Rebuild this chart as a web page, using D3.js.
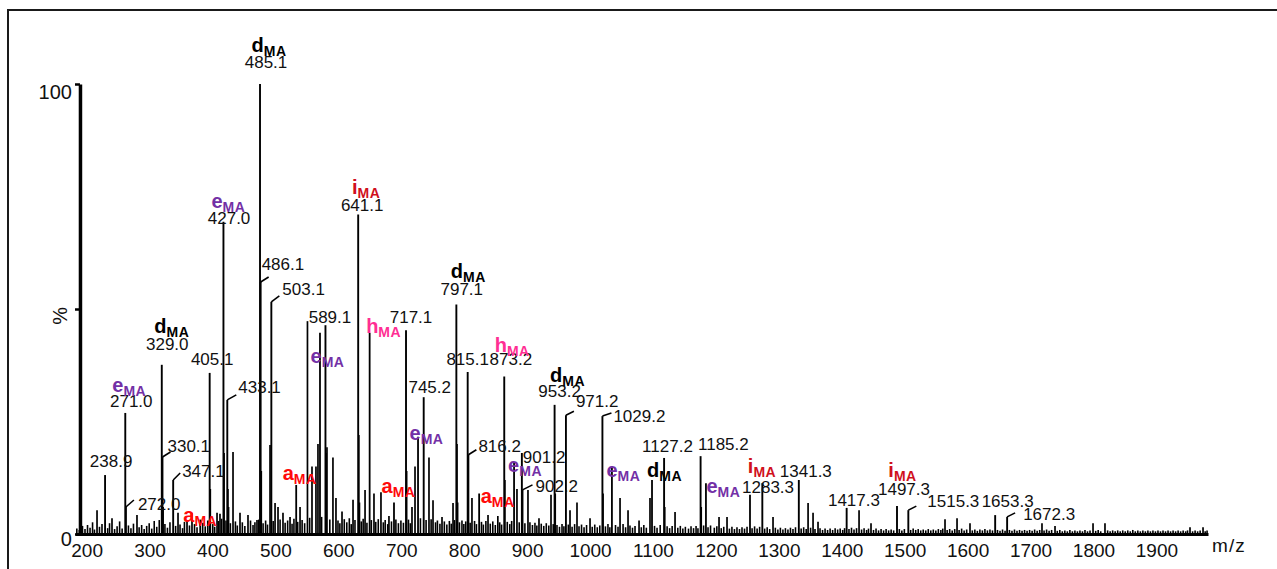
<!DOCTYPE html>
<html>
<head>
<meta charset="utf-8">
<script src="https://cdn.jsdelivr.net/npm/d3@7"></script>
<style>
  html, body { margin: 0; padding: 0; background: #fff; }
  svg { display: block; font-family: "Liberation Sans", Arial, sans-serif; }
</style>
</head>
<body>
<svg id="chart" width="1277" height="569"></svg>
<script>
// ---- Spectrum data (m/z, relative intensity in %) ----
const labelledMz  = [238.9, 271.0, 272.0, 329.0, 330.1, 347.1, 405.1, 427.0, 433.1, 485.1, 486.1, 503.1,
                     589.1, 641.1, 717.1, 745.2, 797.1, 815.1, 816.2, 873.2, 901.2, 902.2, 953.2, 971.2,
                     1029.2, 1127.2, 1185.2, 1283.3, 1341.3, 1417.3, 1497.3, 1515.3, 1653.3, 1672.3];
const labelledPct = [13.1, 26.9, 6.0, 37.6, 17.1, 12.0, 35.8, 69.4, 29.8, 100, 56.0, 51.6,
                     46.4, 71.0, 45.3, 30.4, 51.0, 36.0, 17.6, 35.0, 18.0, 9.8, 28.7, 26.4,
                     26.2, 16.9, 17.3, 11.3, 12.0, 5.8, 6.2, 5.3, 4.2, 3.8];

// fragment peaks carrying only an ion-type tag
const ionPeakMz  = [390.1, 542.6, 580.4, 659.3, 698.0, 736.2, 833.3, 888.8, 1044.3, 1108.0, 1193.7, 1263.7];
const ionPeakPct = [3.2, 10.9, 44.7, 44.7, 7.0, 21.6, 9.0, 16.0, 15.0, 12.0, 11.3, 8.7];

// ion-type annotations (letter + subscript MA)
const ionMz   = [271.0, 329.0, 427.0, 485.1, 390.1, 542.6, 580.4, 641.1, 659.3, 698.0, 736.2,
                 797.1, 833.3, 873.2, 888.8, 953.2, 1044.3, 1108.0, 1193.7, 1263.7, 1497.3];
const ionType = ["e", "d", "e", "d", "a", "a", "e", "i", "h", "a", "e",
                 "d", "a", "h", "e", "d", "e", "d", "e", "i", "i"];

// other resolved peaks and isotope shoulders
const minorPeaks = [
  [226.1,5.3],[249.9,3.5],[289.6,4.2],[331.1,6.0],[354.8,4.7],[369.1,3.0],[377.0,4.7],[406.1,10.0],
  [416.8,4.7],[421.5,4.5],[428.0,18.0],[434.1,10.0],[435.1,6.0],[442.2,18.2],[453.3,4.7],[466.0,4.2],
  [480.3,3.1],[487.1,14.0],[501.0,19.8],[509.0,6.9],[513.7,6.0],[521.6,4.7],[532.8,3.8],[548.7,6.0],
  [560.5,47.3],[567.7,15.0],[574.0,15.0],[577.2,20.0],[590.1,18.0],[591.5,19.3],[601.0,17.0],[605.8,8.0],
  [615.4,5.0],[632.9,7.6],[642.1,22.0],[643.1,7.0],[652.0,9.8],[666.2,9.0],[677.3,9.3],[690.0,4.0],
  [718.1,14.0],[726.6,6.0],[731.4,15.0],[753.6,17.0],[760.0,7.5],[774.3,3.8],[791.8,6.9],[798.1,20.0],
  [799.1,7.0],[821.9,8.0],[847.4,4.2],[863.0,4.0],[874.2,12.0],[893.4,10.0],[910.9,9.8],[928.4,3.5],
  [947.5,8.7],[954.2,9.0],[977.7,5.3],[988.8,7.0],[1009.5,3.5],[1030.2,9.0],[1057.2,8.0],[1069.9,5.3],
  [1087.4,3.0],[1104.8,8.0],[1128.2,6.0],[1144.6,4.9],[1186.2,6.0],[1214.5,3.8],[1227.2,3.8],[1300.3,3.8],
  [1356.0,6.9],[1363.9,4.7],[1371.8,2.7],[1437.0,5.3],[1456.0,2.4],[1573.6,3.3],[1592.7,3.5],[1613.3,2.4],
  [1727.7,2.4],[1748.4,1.8],[1808.8,2.4],[1827.8,2.4],[1962.9,1.5],[1983.6,1.5]
];

// baseline chemical noise
const noisePeaks = [
  [194,1.2],[198,0.9],[203,1.8],[207,1.1],[211,2.0],[215,1.4],[219,2.6],[222,1.0],[230,1.6],[234,2.2],
  [243,1.3],[246,2.4],[254,1.1],[258,1.7],[262,2.8],[266,1.2],[276,1.9],[280,1.3],[284,2.3],[293,1.5],
  [297,2.0],[301,1.1],[305,1.8],[309,2.4],[313,1.2],[317,2.9],[321,1.6],[325,3.1],[334,2.2],[338,1.4],
  [342,2.6],[351,1.8],[358,2.1],[362,1.3],[365,2.7],[373,1.9],[381,2.2],[385,1.5],[394,2.5],[398,1.7],
  [402,3.0],[410,2.2],[413,1.6],[419,2.9],[424,3.4],[431,3.0],[438,2.4],[446,2.8],[449,1.9],[457,2.6],
  [461,1.8],[470,3.0],[474,2.0],[477,2.6],[483,3.2],[490,2.4],[494,3.0],[497,2.1],[506,2.9],[517,3.2],
  [525,2.5],[529,3.0],[536,2.3],[539,3.4],[545,2.7],[552,3.1],[556,2.4],[564,3.6],[583,3.8],[596,3.2],
  [609,3.0],[612,2.4],[619,3.3],[623,2.6],[627,3.5],[630,2.2],[636,3.1],[646,2.8],[649,3.4],[655,2.5],
  [662,3.1],[669,2.7],[673,3.3],[681,2.6],[684,3.1],[688,2.2],[694,2.8],[701,3.2],[705,2.4],[709,3.0],
  [713,2.5],[721,3.2],[724,2.4],[740,3.5],[749,3.1],[757,3.3],[764,2.6],[767,3.0],[771,2.3],[778,2.8],
  [782,2.1],[786,2.9],[789,2.3],[794,3.1],[802,2.6],[806,3.0],[809,2.2],[812,2.8],[819,2.5],[826,2.9],
  [829,2.2],[837,2.7],[840,2.1],[844,2.9],[851,2.3],[855,2.8],[859,2.0],[866,2.6],[869,2.1],[878,2.7],
  [882,2.2],[885,2.9],[897,2.6],[906,2.4],[914,2.6],[918,2.0],[922,2.5],[925,1.9],[932,2.3],[936,1.8],
  [940,2.4],[944,1.9],[951,2.2],[957,2.0],[961,1.6],[965,2.2],[968,1.7],[975,2.1],[981,1.6],[985,2.2],
  [992,1.7],[996,2.1],[1000,1.5],[1004,2.0],[1013,1.6],[1017,2.1],[1021,1.5],[1025,1.9],[1034,1.7],[1038,2.2],
  [1041,1.5],[1050,2.0],[1054,1.6],[1062,2.2],[1066,1.5],[1073,1.9],[1077,1.4],[1081,1.8],[1091,1.5],[1095,2.0],
  [1099,1.4],[1112,1.8],[1116,1.4],[1121,2.0],[1132,1.7],[1136,1.3],[1140,1.8],[1149,1.4],[1153,1.8],[1157,1.2],
  [1161,1.6],[1166,1.2],[1170,1.7],[1174,1.3],[1178,1.8],[1181,1.3],[1190,1.9],[1197,1.5],[1201,1.9],[1207,1.4],
  [1211,1.7],[1218,1.3],[1222,1.6],[1231,1.2],[1235,1.6],[1239,1.1],[1243,1.5],[1247,1.1],[1251,1.5],[1255,1.2],
  [1259,1.6],[1267,1.3],[1271,1.7],[1275,1.2],[1279,1.6],[1287,1.2],[1291,1.5],[1295,1.1],[1304,1.4],[1308,1.0],
  [1312,1.4],[1316,1.0],[1320,1.3],[1324,1.0],[1328,1.4],[1332,1.1],[1336,1.5],[1345,1.2],[1349,1.5],[1353,1.1],
  [1360,1.4],[1367,1.1],[1375,1.3],[1379,0.9],[1383,1.2],[1387,0.9],[1391,1.2],[1395,0.9],[1399,1.3],[1403,1.0],
  [1407,1.2],[1411,0.9],[1414,1.3],[1421,1.1],[1425,1.4],[1429,1.0],[1433,1.3],[1441,1.0],[1445,1.3],[1449,0.9],
  [1452,1.2],[1460,0.9],[1464,1.2],[1468,0.8],[1472,1.1],[1476,0.8],[1480,1.1],[1484,0.8],[1488,1.0],[1492,0.8],
  [1501,1.1],[1505,0.8],[1509,1.1],[1519,0.9],[1523,1.2],[1527,0.9],[1531,1.1],[1535,0.8],[1539,1.0],[1543,0.8],
  [1547,1.1],[1551,0.8],[1555,1.0],[1559,0.8],[1563,1.1],[1567,0.9],[1570,1.2],[1577,0.9],[1581,1.1],[1585,0.8],
  [1589,1.1],[1596,0.9],[1600,1.2],[1604,0.8],[1608,1.0],[1617,0.8],[1621,1.0],[1625,0.7],[1629,1.0],[1633,0.8],
  [1637,1.1],[1641,0.8],[1645,1.0],[1649,0.8],[1657,0.9],[1661,0.7],[1665,1.0],[1669,0.7],[1676,0.9],[1680,0.7],
  [1684,1.0],[1688,0.7],[1692,0.9],[1696,0.7],[1700,0.9],[1704,0.7],[1708,0.9],[1712,0.7],[1716,1.0],[1720,0.7],
  [1724,0.9],[1731,0.8],[1735,1.0],[1739,0.7],[1743,0.9],[1752,0.7],[1756,0.9],[1760,0.6],[1764,0.8],[1768,0.6],
  [1772,0.9],[1776,0.6],[1780,0.8],[1784,0.6],[1788,0.8],[1792,0.6],[1796,0.9],[1800,0.6],[1804,0.8],[1813,0.7],
  [1817,0.9],[1821,0.6],[1832,0.8],[1836,0.6],[1840,0.8],[1844,0.6],[1848,0.8],[1852,0.6],[1856,0.8],[1860,0.6],
  [1864,0.8],[1868,0.6],[1872,0.9],[1876,0.6],[1880,0.8],[1884,0.6],[1888,0.8],[1892,0.6],[1896,0.8],[1900,0.6],
  [1904,0.8],[1908,0.6],[1912,0.8],[1916,0.6],[1920,0.8],[1924,0.6],[1928,0.8],[1932,0.6],[1936,0.8],[1940,0.6],
  [1944,0.8],[1948,0.6],[1952,0.8],[1956,0.6],[1959,0.8],[1967,0.6],[1971,0.8],[1975,0.6],[1979,0.8],[1987,0.6],
  [1990,0.8]
];

const xTicks = [200, 300, 400, 500, 600, 700, 800, 900, 1000, 1100, 1200, 1300, 1400, 1500, 1600, 1700, 1800, 1900];
const yTicks = [0, 50, 100];
const yTickText = { 0: "0", 50: "", 100: "100" };

// ---- Label placement (offsets from the peak apex, px) ----
const valueLabelLayout = {
  "238.9": ["middle", 6, -8],  "271.0": ["middle", 6, -6],  "272.0": ["start", 12, 3, 8, -7],
  "329.0": ["middle", 5.5, -15], "330.1": ["start", 5, -5, 8, -5], "347.1": ["start", 9, -3, 7, -7],
  "405.1": ["middle", 2.5, -8], "427.0": ["middle", 5.6, 2], "433.1": ["start", 11, -7, 9, -5],
  "485.1": ["middle", 6, -16], "486.1": ["start", 1, -12, 8, -5], "503.1": ["start", 11, -7, 8, -6],
  "589.1": ["middle", 4.5, -2], "641.1": ["middle", 4, -4], "717.1": ["middle", 5, -7],
  "745.2": ["middle", 6, -4], "797.1": ["middle", 5.4, -9.5], "815.1": ["middle", 0, -7],
  "816.2": ["start", 10, -3, 8, -5], "873.2": ["middle", 6.6, -11.5], "901.2": ["start", 1, 10],
  "902.2": ["start", 13, 2, 10, -5], "953.2": ["middle", 5, -8], "971.2": ["start", 10, -8, 8, -4],
  "1029.2": ["start", 11, 6, 9, -3], "1127.2": ["middle", 3.4, -6], "1185.2": ["start", -2.6, -6],
  "1283.3": ["middle", 5.7, 10], "1341.3": ["middle", 7, -3], "1417.3": ["middle", 7.3, -1.5],
  "1497.3": ["middle", 7, -11], "1515.3": ["start", 19, -3, 8, -4], "1653.3": ["middle", 12.5, -8],
  "1672.3": ["start", 16, 3, 8, -4]
};
const ionLabelLayout = {
  "e271": [4, -21], "d329": [10, -32], "e427": [5, -14], "d485.1": [9, -32], "a390.1": [0, 2],
  "a542.6": [3.5, -5], "e580.4": [7.5, 30], "i641.1": [8, -21], "h659.3": [14, 0], "a698": [4.5, -9.5],
  "e736.2": [8.5, 3], "d797.1": [12, -26.5], "a833.3": [18.5, 9.5], "h873.2": [8, -24.5], "e888.8": [11, 10],
  "d953.2": [13, -23], "e1044.3": [11.5, 10.5], "d1108": [12.5, -3], "e1193.7": [17.5, 10],
  "i1263.7": [12, -22], "i1497.3": [5.5, -29]
};
const ionColor = { d: "#000000", e: "#7330a6", i: "#d0101c", a: "#ff0a0a", h: "#ff2e93" };

// ---- Assemble peak records ----
const labelled = labelledMz.map((m, i) => ({ mz: m, pct: labelledPct[i], text: m.toFixed(1) }));
const ionPeaks = ionPeakMz.map((m, i) => ({ mz: m, pct: ionPeakPct[i] }));
const minor = minorPeaks.map(([m, p]) => ({ mz: m, pct: p }));
const noise = noisePeaks.map(([m, p]) => ({ mz: m, pct: p }));

const pctOf = new Map();
[...labelled, ...ionPeaks].forEach(d => pctOf.set(d.mz, d.pct));

// ---- Scales ----
const x = d3.scaleLinear().domain([191.5, 1991.5]).range([75.25, 1208]);
const y = d3.scaleLinear().domain([0, 100]).range([534, 84]);

const svg = d3.select("#chart");

// outer frame
svg.append("rect")
  .attr("x", 8).attr("y", 10).attr("width", 1300).attr("height", 600)
  .attr("fill", "none").attr("stroke", "#1a1a1a").attr("stroke-width", 2);

// ---- Stick spectrum ----
function sticks(data, width) {
  svg.append("g").selectAll("line").data(data).join("line")
    .attr("x1", d => x(d.mz)).attr("x2", d => x(d.mz))
    .attr("y1", y(0)).attr("y2", d => y(d.pct))
    .attr("stroke", "#000").attr("stroke-width", width);
}
sticks(noise, 1.6);
sticks(minor, 1.7);
sticks(ionPeaks, 1.8);
sticks(labelled, 1.9);

// ---- Axes ----
const xAxis = svg.append("g")
  .attr("transform", `translate(0,${y(0)})`)
  .call(d3.axisBottom(x).tickValues(xTicks).tickSize(0).tickSizeOuter(0).tickFormat(d3.format("d")));
xAxis.select(".domain").attr("stroke", "#000").attr("stroke-width", 3);
xAxis.selectAll("text")
  .attr("y", 23).attr("dy", 0).attr("dx", 6)
  .attr("font-family", "Liberation Sans, Arial, sans-serif")
  .attr("font-size", 19).attr("fill", "#111");

const yAxis = svg.append("g")
  .attr("transform", `translate(${x(199)},0)`)
  .call(d3.axisLeft(y).tickValues(yTicks).tickSize(5).tickSizeOuter(0).tickPadding(3)
    .tickFormat(d => yTickText[d]));
yAxis.select(".domain").attr("stroke", "#000").attr("stroke-width", 3.5);
yAxis.selectAll(".tick line").attr("stroke", "#000").attr("stroke-width", 2.5);
yAxis.selectAll("text")
  .attr("dy", d => d === 100 ? 14 : 11)
  .attr("font-family", "Liberation Sans, Arial, sans-serif")
  .attr("font-size", 20).attr("fill", "#111");

svg.append("text")
  .attr("transform", `translate(67,${y(48.5)}) rotate(-90)`)
  .attr("text-anchor", "middle")
  .attr("font-size", 20).attr("fill", "#111")
  .text("%");

svg.append("text")
  .attr("x", x(1998)).attr("y", y(0) + 18)
  .attr("font-size", 19).attr("letter-spacing", 1).attr("fill", "#111")
  .text("m/z");

// ---- Value labels with optional leader ticks ----
const valueG = svg.append("g");
labelled.forEach(d => {
  const [anchor, dx, dy, lx, ly] = valueLabelLayout[d.text];
  const px = x(d.mz), py = y(d.pct);
  if (lx !== undefined) {
    valueG.append("line")
      .attr("x1", px).attr("y1", py).attr("x2", px + lx).attr("y2", py + ly)
      .attr("stroke", "#000").attr("stroke-width", 1.6);
  }
  valueG.append("text")
    .attr("x", px + dx).attr("y", py + dy)
    .attr("text-anchor", anchor)
    .attr("font-size", 17).attr("fill", "#111")
    .text(d.text);
});

// ---- Ion-type tags ----
const ionG = svg.append("g");
ionMz.forEach((m, i) => {
  const t = ionType[i];
  const [dx, dy] = ionLabelLayout[t + m];
  const tag = ionG.append("text")
    .attr("x", x(m) + dx).attr("y", y(pctOf.get(m)) + dy)
    .attr("text-anchor", "middle")
    .attr("font-weight", "bold")
    .attr("fill", ionColor[t]);
  tag.append("tspan").attr("font-size", 20).text(t);
  tag.append("tspan").attr("font-size", 14).attr("dy", 4).attr("letter-spacing", 0.5).text("MA");
});
</script>
</body>
</html>
